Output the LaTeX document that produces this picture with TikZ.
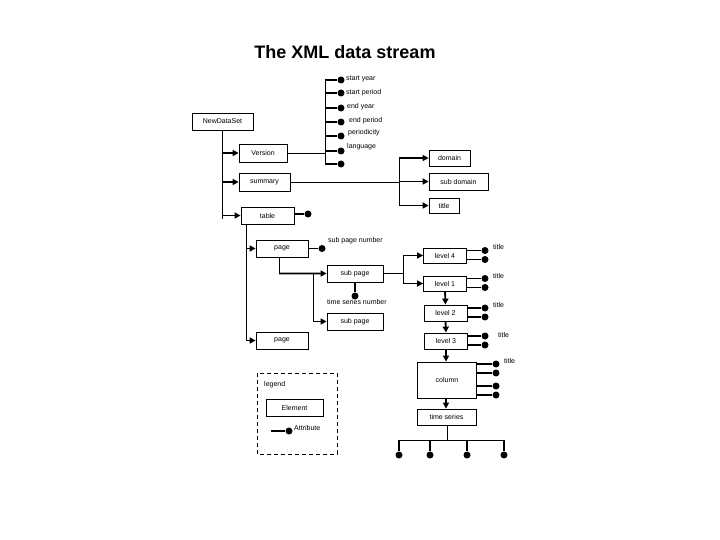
\documentclass[tikz,border=0pt]{standalone}
\usepackage{fontspec}
\setmainfont{Liberation Sans}
\usetikzlibrary{arrows.meta}
\begin{document}
\begin{tikzpicture}[x=1pt,y=-1pt,
  box/.style={draw, line width=0.8pt, inner sep=0pt, font=\fontsize{7}{8}\selectfont},
  lbl/.style={anchor=west, inner sep=0pt, font=\fontsize{7}{8}\selectfont},
  dot/.style={circle, fill, inner sep=0pt, minimum size=7pt},
  lnthin/.style={line width=0.8pt},
  lnthick/.style={line width=1.8pt},
  arr/.style={line width=1.8pt, -{Triangle[length=6pt,width=6pt]}},
]
\fill[white] (0,0) rectangle (720,540);
\useasboundingbox (0,0) rectangle (720,540);

% title
\node[font=\fontsize{18}{21}\selectfont\bfseries] (ttl) at (345,52) {The XML data stream};

% attribute column
\coordinate (acT) at (325,80);
\coordinate (acB) at (325,164);
\draw[lnthin] (acT) -- (acB);
\foreach \n/\y in {1/80,2/93,3/108,4/122,5/136,6/151,7/164}{
  \coordinate (s\n) at (325,\y);
  \node[dot] (a\n) at (341,\y) {};
  \draw[lnthick] (s\n) -- (a\n);
}
\node[lbl] (l1) at (346,79) {start year};
\node[lbl] (l2) at (346,93) {start period};
\node[lbl] (l3) at (347,107) {end year};
\node[lbl] (l4) at (349,121) {end period};
\node[lbl] (l5) at (348,133) {periodicity};
\node[lbl] (l6) at (347,147) {language};

% NewDataSet
\node[box, minimum width=61pt, minimum height=17pt] (nds) at (222.5,121.5) {NewDataSet};
\coordinate (ndsB) at (222.5,219);
\draw[lnthin] (nds.south) -- (ndsB);

\node[box, minimum width=48pt, minimum height=18pt] (ver) at (263,153) {Version};
\node[box, minimum width=51pt, minimum height=18pt] (sum) at (264.5,182) {summary};
\node[box, minimum width=53pt, minimum height=17pt] (tab) at (267.5,215.5) {table};
\draw[arr] (ver.west -| nds.south) -- (ver.west);
\draw[arr] (sum.west -| nds.south) -- (sum.west);
\draw[arr] (tab.west -| nds.south) -- (tab.west);
\draw[lnthin] (ver.east) -- (ver.east -| acT);
\node[dot] (tdot) at (308,214) {};
\draw[lnthick] (tab.east |- tdot) -- (tdot);

% domain group
\coordinate (dT) at (399,158);
\coordinate (dB) at (399,205.5);
\draw[lnthin] (dT) -- (dB);
\draw[lnthin] (sum.east) -- (sum.east -| dT);
\node[box, minimum width=41pt, minimum height=16pt] (dom) at (449.5,158) {domain};
\node[box, minimum width=59pt, minimum height=17pt] (sdom) at (458.5,181.5) {sub domain};
\node[box, minimum width=30pt, minimum height=15pt] (dtit) at (444,205.5) {title};
\draw[arr] (dT) -- (dom.west);
\draw[arr] (dom.west -| dT) ++(0,23.5) coordinate (dM) -- (sdom.west);
\draw[arr] (dB) -- (dtit.west);

% table stem
\coordinate (tsT) at (246,224);
\coordinate (tsB) at (246,340.5);
\draw[lnthin] (tab.south -| tsT) -- (tsB);
\node[box, minimum width=52pt, minimum height=17pt] (pg1) at (282,248.5) {page};
\node[box, minimum width=52pt, minimum height=17pt] (pg2) at (282,340.5) {page};
\draw[arr] (pg1.west -| tsT) -- (pg1.west);
\draw[arr] (tsB) -- (pg2.west);
\node[dot] (spn) at (322,248.5) {};
\draw[lnthick] (pg1.east) -- (spn);
\node[lbl] (spnl) at (328,241) {sub page number};

% sub pages
\node[box, minimum width=56pt, minimum height=17pt] (sp1) at (355,273.5) {sub page};
\node[box, minimum width=56pt, minimum height=17pt] (sp2) at (355,321.5) {sub page};
\draw[lnthin] ([xshift=-3pt]pg1.south) -- ++(0,16) coordinate (pgc);
\draw[arr] (pgc) -- (sp1.west);
\coordinate (spv) at (313,273.5);
\coordinate (spvB) at (313,321.5);
\draw[lnthin] (spv) -- (spvB);
\draw[arr] (spvB) -- (sp2.west);
\node[dot] (tsn) at (355,296) {};
\draw[lnthick] (sp1.south) -- (tsn);
\node[lbl] (tsnl) at (327,302) {time series number};

% levels
\coordinate (lvT) at (403,255.5);
\coordinate (lvB) at (403,283.5);
\draw[lnthin] (sp1.east) -- (sp1.east -| lvT);
\draw[lnthin] (lvT) -- (lvB);
\node[box, minimum width=43pt, minimum height=15pt] (lv4) at (445,255.5) {level 4};
\node[box, minimum width=43pt, minimum height=15pt] (lv1) at (445,283.5) {level 1};
\node[box, minimum width=43pt, minimum height=16pt] (lv2) at (445.5,313) {level 2};
\node[box, minimum width=43pt, minimum height=16pt] (lv3) at (446,341) {level 3};
\draw[arr] (lvT) -- (lv4.west);
\draw[arr] (lvB) -- (lv1.west);
\draw[arr] (lv1.south) -- (lv2.north);
\draw[arr] (lv2.south) -- (lv3.north);
\foreach \b/\x/\t in {lv4/493/247,lv1/493/276,lv2/493/305,lv3/498/335}{
  \node[dot] (\b u) at (485,0 |- {\b.east}) [yshift=5pt] {};
  \node[dot] (\b d) at (485,0 |- {\b.east}) [yshift=-4pt] {};
  \draw[lnthick] (\b.east |- \b u) -- (\b u);
  \draw[lnthick] (\b.east |- \b d) -- (\b d);
  \node[lbl] (\b t) at (\x,\t) {title};
}

% column
\node[box, minimum width=59pt, minimum height=36pt] (col) at (447,380) {column};
\draw[arr] (lv3.south) -- (col.north -| lv3.south);
\foreach \n/\y in {1/364,2/373,3/386,4/395}{
  \node[dot] (c\n) at (496,\y) {};
  \draw[lnthick] (col.east |- c\n) -- (c\n);
}
\node[lbl] (colt) at (504,361) {title};

% time series
\node[box, minimum width=59pt, minimum height=16pt] (ts) at (446.5,417) {time series};
\draw[arr] (col.south -| lv3.south) -- (ts.north -| lv3.south);
\coordinate (tsj) at (447,440);
\coordinate (hL) at (399,440);
\coordinate (hR) at (504,440);
\draw[lnthin] (ts.south -| tsj) -- (tsj);
\draw[lnthin] (hL) -- (hR);
\foreach \n/\x in {1/399,2/430,3/467,4/504}{
  \coordinate (h\n) at (\x,440);
  \node[dot] (e\n) at (\x,455) {};
  \draw[lnthick] (h\n) -- (e\n);
}

% legend
\draw[line width=0.8pt, dash pattern=on 4pt off 3pt] (257,373) rectangle (337,454);
\node[lbl] (lgl) at (264,385) {legend};
\node[box, minimum width=57pt, minimum height=17pt] (lel) at (294.5,407.5) {Element};
\coordinate (lat) at (271,431);
\node[dot] (lad) at (289,431) {};
\draw[lnthick] (lat) -- (lad);
\node[lbl] (latl) at (294,428) {Attribute};
\end{tikzpicture}
\end{document}
